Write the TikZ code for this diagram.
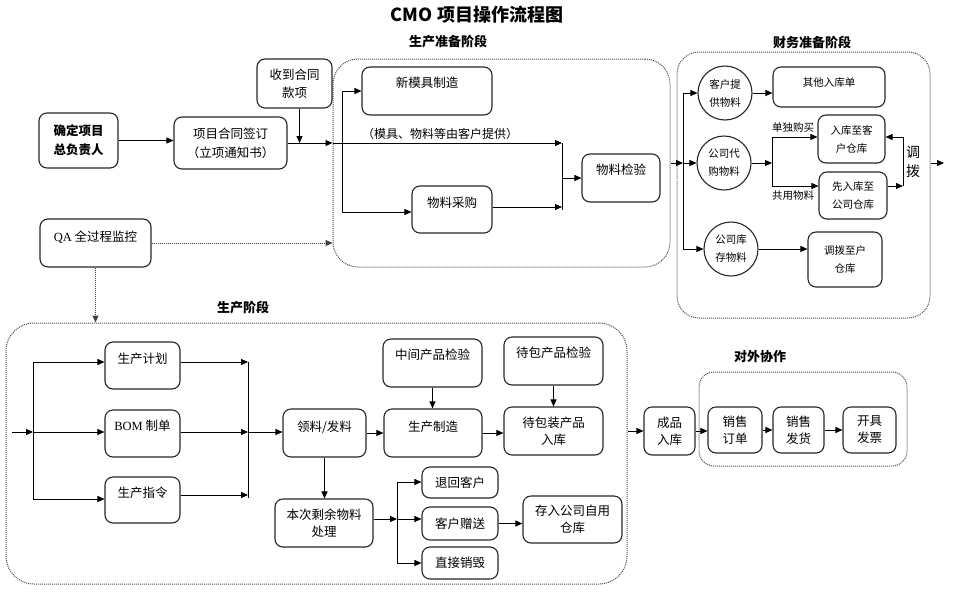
\documentclass[tikz,border=0pt]{standalone}
\usepackage{fontspec}
\setmainfont{Noto Sans CJK SC}
\newfontfamily\latinf{Liberation Serif}
\usetikzlibrary{arrows.meta}
\tikzset{
 box/.style={draw=black!85, line width=1.1pt, rounded corners=8pt, align=center, inner sep=0pt, font=\fontsize{12.5}{18}\selectfont},
 region/.style={draw=black!70, densely dotted, line width=1pt, rounded corners=#1, inner sep=0pt},
 region/.default=25pt,
 circ/.style={circle, draw=black!85, line width=1.1pt, inner sep=0pt, minimum size=54pt, align=center, font=\fontsize{10.5}{18}\selectfont},
 arr/.style={draw=black, line width=0.9pt, -{Triangle[length=7pt,width=6pt]}},
 ln/.style={draw=black, line width=0.9pt},
 dotarr/.style={draw=black!75, densely dotted, line width=1pt, -{Triangle[length=7pt,width=6pt]}},
 lbl/.style={font=\bfseries\fontsize{13}{15}\selectfont},
 smalltxt/.style={font=\fontsize{10.5}{18}\selectfont},
 tup/.style={text depth=#1},
}
\newcommand\mybox[7][box]{\node[#1,minimum width={#5-#3},minimum height={#6-#4}] (#2) at ({(#3+#5)/2},{(#4+#6)/2}) {#7};}
\begin{document}
\begin{tikzpicture}[x=1pt,y=-1pt]
\useasboundingbox (0,0) rectangle (955,603);
% title and section labels
\node[font=\bfseries\fontsize{18}{20}\selectfont] (title) at (477,15) {CMO 项目操作流程图};
\node[lbl] (lprep) at (448,42) {生产准备阶段};
\node[lbl] (lfin) at (812,42) {财务准备阶段};
\node[lbl] (lprod) at (243,308) {生产阶段};
\node[lbl] (lext) at (760,357) {对外协作};
% regions
\mybox[region=25pt]{prep}{333}{59}{670}{267}{}
\mybox[region=22pt]{fin}{677}{52}{930}{318}{}
\mybox[region=28pt]{prod}{6}{323}{627}{584}{}
\mybox[region=15pt]{ext}{699}{372}{907}{466}{}
% top-left
\mybox[box,font=\bfseries\fontsize{12.5}{19}\selectfont]{zr}{39}{113}{118}{168}{确定项目\\总负责人}
\mybox[box,font=\fontsize{12.5}{19}\selectfont]{ht}{174}{117}{287}{169}{项目合同签订\\（立项通知书）}
\mybox{sk}{257}{59}{332}{108}{收到合同\\款项}
\mybox[box,tup=13.5pt]{qa}{40}{219}{151}{267}{{\latinf QA} 全过程监控}
% production preparation
\mybox[box,tup=17.5pt]{xmj}{362}{67}{492}{115}{新模具制造}
\mybox[box,tup=14.5pt]{wlcg}{412}{186}{492}{233}{物料采购}
\mybox[box,tup=17.5pt]{wljy}{582}{154}{660}{202}{物料检验}
\node[font=\fontsize{12}{14}\selectfont] (kh) at (440,134) {（模具、物料等由客户提供）};
% finance
\node[circ] (c1) at (725,93) {客户提\\供物料};
\node[circ] (c2) at (724,163) {公司代\\购物料};
\node[circ] (c3) at (731,249) {公司库\\存物料};
\mybox[box,smalltxt,tup=9.5pt]{qt}{773}{67}{885}{107}{其他入库单}
\mybox[box,smalltxt]{rk}{818}{115}{885}{163}{入库至客\\户仓库}
\mybox[box,smalltxt]{xrk}{819}{172}{887}{219}{先入库至\\公司仓库}
\mybox[box,smalltxt]{dbz}{808}{232}{882}{287}{调拨至户\\仓库}
\node[smalltxt] (ldg) at (793,128) {单独购买};
\node[smalltxt] (lgy) at (793,196) {共用物料};
\node[font=\fontsize{14}{19}\selectfont, align=center] (ldb) at (913,162) {调\\拨};
% production
\mybox[box,tup=14.5pt]{scjh}{105}{342}{180}{389}{生产计划}
\mybox[box,tup=16.5pt]{bom}{105}{410}{180}{457}{{\latinf BOM} 制单}
\mybox[box,tup=15.5pt]{sczl}{105}{477}{180}{523}{生产指令}
\mybox[box,tup=13.5pt]{ll}{283}{409}{366}{457}{领料/发料}
\mybox[box,font=\fontsize{12.5}{17}\selectfont]{sy}{275}{499}{373}{547}{本次剩余物料\\处理}
\mybox[box,tup=13.5pt]{sc}{384}{409}{482}{457}{生产制造}
\mybox[box,tup=17.5pt]{zj}{383}{339}{482}{387}{中间产品检验}
\mybox[box,tup=17.5pt]{djy}{504}{337}{603}{385}{待包产品检验}
\mybox[box,font=\fontsize{12.5}{17}\selectfont]{dbr}{504}{407}{603}{455}{待包装产品\\入库}
\mybox{th}{422}{467}{498}{498}{退回客户}
\mybox{zs}{422}{507}{498}{540}{客户赠送}
\mybox{xh}{422}{547}{498}{579}{直接销毁}
\mybox[box,font=\fontsize{12.5}{17}\selectfont]{cr}{523}{496}{622}{543}{存入公司自用\\仓库}
% external
\mybox[box,font=\fontsize{12.5}{17}\selectfont]{cp}{644}{407}{695}{455}{成品\\入库}
\mybox[box,font=\fontsize{12.5}{17}\selectfont]{xsdd}{708}{407}{762}{453}{销售\\订单}
\mybox[box,font=\fontsize{12.5}{17}\selectfont]{xsfh}{773}{407}{824}{453}{销售\\发货}
\mybox[box,font=\fontsize{12.5}{17}\selectfont]{kjfp}{843}{407}{896}{453}{开具\\发票}
% coordinates
\coordinate (pb1t) at (342,91); \coordinate (pb1b) at (342,212);
\coordinate (pb2t) at (562,143); \coordinate (pb2b) at (562,210);
\coordinate (fb1t) at (683,93); \coordinate (fb1b) at (683,249);
\coordinate (fb2t) at (772,137); \coordinate (fb2b) at (772,186);
\coordinate (tb) at (903,186); \coordinate (tt) at (903,137);
\coordinate (fout) at (944,163);
\coordinate (pin) at (12,432);
\coordinate (qb1t) at (33,362); \coordinate (qb1b) at (33,499); \coordinate (qb1m) at (33,432);
\coordinate (qb2t) at (248,362); \coordinate (qb2b) at (248,498); \coordinate (qb2m) at (248,432); \coordinate (qb2c) at (248,495);
\coordinate (qb3t) at (397,482); \coordinate (qb3b) at (397,563); \coordinate (qb3m) at (397,519);
% connectors: top
\draw[arr] (zr.east) -- (zr.east -| ht.west);
\draw[arr] (ht.east) -- (ht.east -| prep.west);
\draw[arr] ([xshift=5pt]sk.south) -- ([xshift=5pt]sk.south |- ht.east);
\draw[dotarr] (qa.east) -- (qa.east -| prep.west);
\draw[dotarr] (qa.south) -- (qa.south |- prod.north);
% prep
\draw[arr] (ht.east -| prep.west) -- (pb2t);
\draw[ln] (pb1t) -- (pb1b);
\draw[arr] (pb1t) -- (pb1t -| xmj.west);
\draw[arr] (pb1b) -- (pb1b -| wlcg.west);
\draw[ln] (pb2t) -- (pb2b);
\draw[arr] ([yshift=2.5pt]wlcg.east) -- ([yshift=2.5pt]wlcg.east -| pb2t);
\draw[arr] (wljy.west -| pb2t) -- (wljy.west);
\draw[arr] (prep.east) -- (prep.east -| fb1t);
% finance
\draw[ln] (fb1t) -- (fb1b);
\draw[arr] (fb1t) -- (c1.west);
\draw[arr] (fb1t |- c2.west) -- (c2.west);
\draw[arr] (fb1b) -- (c3.west);
\draw[arr] (c1.east) -- (c1.east -| qt.west);
\draw[arr] (c2.east) -- (c2.east -| fb2t);
\draw[ln] (fb2t) -- (fb2b);
\draw[arr] (fb2t) -- (fb2t -| rk.west);
\draw[arr] (fb2b) -- (fb2b -| xrk.west);
\draw[arr] (tb -| xrk.east) -- (tb);
\draw[arr] (tb) -- (tt) -- (tt -| rk.east);
\draw[arr] (c3.east) -- (c3.east -| dbz.west);
\draw[arr] (fout -| fin.east) -- (fout);
% production
\draw[arr] (pin) -- (qb1m);
\draw[ln] (qb1t) -- (qb1b);
\draw[arr] (qb1t) -- (qb1t -| scjh.west);
\draw[arr] (qb1m) -- (qb1m -| bom.west);
\draw[arr] (qb1b) -- (qb1b -| sczl.west);
\draw[arr] (qb2t -| scjh.east) -- (qb2t);
\draw[arr] (qb2m -| bom.east) -- (qb2m);
\draw[arr] (qb2c -| sczl.east) -- (qb2c);
\draw[ln] (qb2t) -- (qb2b);
\draw[arr] (qb2m) -- (qb2m -| ll.west);
\draw[arr] (ll.south) -- (ll.south |- sy.north);
\draw[arr] (ll.east) -- (ll.east -| sc.west);
\draw[arr] (zj.south) -- (zj.south |- sc.north);
\draw[arr] (sc.east) -- (sc.east -| dbr.west);
\draw[arr] (djy.south) -- (djy.south |- dbr.north);
\draw[arr] (qb3m -| sy.east) -- (qb3m);
\draw[ln] (qb3t) -- (qb3b);
\draw[arr] (qb3t) -- (qb3t -| th.west);
\draw[arr] (qb3m) -- (qb3m -| zs.west);
\draw[arr] (qb3b) -- (qb3b -| xh.west);
\draw[arr] (zs.east) -- (zs.east -| cr.west);
% external
\draw[arr] (prod.east |- cp.west) -- (cp.west);
\draw[arr] (cp.east) -- (cp.east -| xsdd.west);
\draw[arr] (xsdd.east) -- (xsfh.west);
\draw[arr] (xsfh.east) -- (kjfp.west);
\end{tikzpicture}
\end{document}
